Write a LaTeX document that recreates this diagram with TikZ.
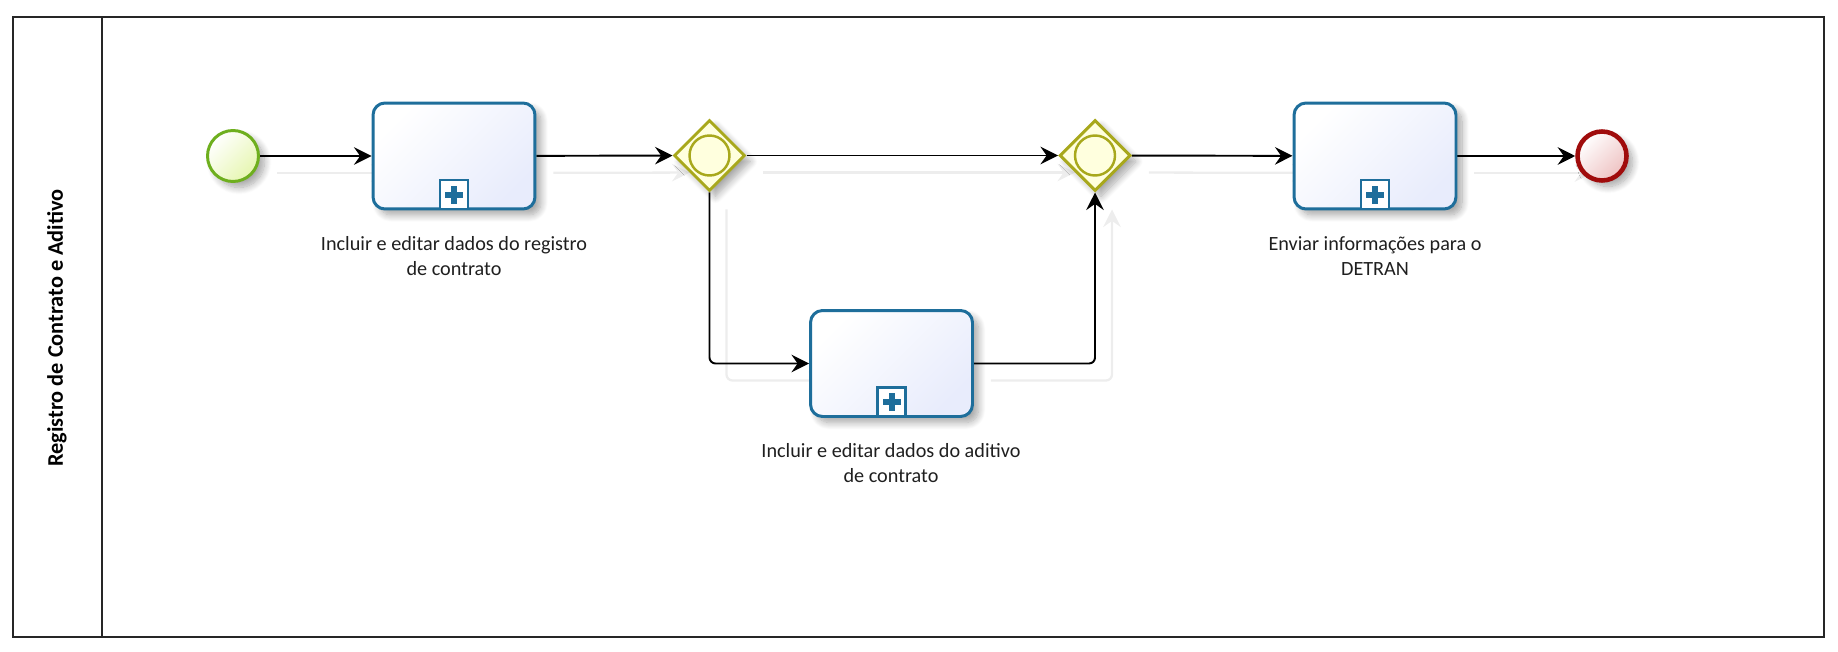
\documentclass[tikz,border=0pt]{standalone}
\usepackage{fontspec}
\setmainfont{Carlito}
\usetikzlibrary{shapes.geometric,arrows.meta,shadows.blur,backgrounds,calc}
\definecolor{taskblue}{RGB}{30,110,155}
\definecolor{taskfill}{RGB}{232,236,252}
\definecolor{startgreen}{RGB}{110,175,30}
\definecolor{startfill}{RGB}{230,246,176}
\definecolor{gwolive}{RGB}{168,168,28}
\definecolor{gwfill}{RGB}{255,255,222}
\definecolor{endred}{RGB}{160,12,12}
\definecolor{endfill}{RGB}{238,194,194}
\tikzset{
  shd/.style={blur shadow={shadow xshift=0.12cm, shadow yshift=-0.12cm, shadow blur steps=10, shadow blur radius=0.14cm, shadow opacity=35}},
  task/.style={draw=taskblue, line width=1.7pt, rounded corners=0.24cm, minimum width=3.24cm, minimum height=2.12cm, inner sep=0pt, top color=white, bottom color=taskfill, shading angle=45, shd},
  marker/.style={draw=taskblue, line width=1.5pt, fill=white, minimum width=0.56cm, minimum height=0.58cm, inner sep=0pt, anchor=south,
    path picture={
      \fill[taskblue] ([shift={(-0.18cm,-0.06cm)}]path picture bounding box.center) rectangle ([shift={(0.18cm,0.06cm)}]path picture bounding box.center);
      \fill[taskblue] ([shift={(-0.06cm,-0.18cm)}]path picture bounding box.center) rectangle ([shift={(0.06cm,0.18cm)}]path picture bounding box.center);
    }},
  startev/.style={circle, draw=startgreen, line width=1.7pt, minimum size=1.02cm, inner sep=0pt, top color=white, bottom color=startfill, shading angle=45, shd},
  endev/.style={circle, draw=endred, line width=2.6pt, minimum size=0.98cm, inner sep=0pt, top color=white, bottom color=endfill, shading angle=45, shd},
  gw/.style={diamond, aspect=1, draw=gwolive, line width=1.7pt, minimum size=1.42cm, inner sep=0pt, fill=gwfill, shd},
  gwin/.style={circle, draw=gwolive, line width=1.4pt, minimum size=0.80cm, inner sep=0pt, fill=gwfill},
  lbl/.style={align=center, text=black!88, font=\fontsize{11.5pt}{14.2pt}\selectfont, inner sep=0pt},
  flow/.style={draw=black, line width=1.1pt, rounded corners=0.12cm, -{Stealth[length=10pt,width=10pt,inset=3.5pt]},
    preaction={draw=black!7, line width=1.3pt, transform canvas={shift={(0.34cm,-0.34cm)}}}},
  poolline/.style={draw=black!85, line width=1.1pt}
}
\begin{document}
\begin{tikzpicture}[x=0.02cm, y=-0.02cm]
\useasboundingbox (0,0) rectangle (1838,652);
% pool
\draw[poolline] (13,17) rectangle (1824,637);
\draw[poolline] (102,17) -- (102,637);
\node[rotate=90, font=\bfseries\fontsize{12.7pt}{14pt}\selectfont, inner sep=0pt] (title) at (57,328) {Registro de Contrato e Aditivo};
% nodes
\node[startev] (start) at (233,156) {};
\node[task] (t1) at (454,156) {};
\node[marker] (m1) at (t1.south) {};
\node[gw] (g1) at (709.5,155.5) {};
\node[gwin] (g1in) at (g1.center) {};
\node[gw] (g2) at (1095,155.5) {};
\node[gwin] (g2in) at (g2.center) {};
\node[task] (t2) at (891.5,363.5) {};
\node[marker] (m2) at (t2.south) {};
\node[task] (t3) at (1375,156) {};
\node[marker] (m3) at (t3.south) {};
\node[endev] (end) at (1602,156) {};
% labels
\node[lbl] (l1) at (454,256) {Incluir e editar dados do registro\\de contrato};
\node[lbl] (l2) at (891,463) {Incluir e editar dados do aditivo\\de contrato};
\node[lbl] (l3) at (1375,256) {Enviar informações para o\\DETRAN};
% connectors
\begin{pgfonlayer}{background}
\draw[flow] (start) -- (t1);
\draw[flow] (t1) -- (g1);
\draw[flow] (g1) -- (g2);
\draw[flow] (g1.south) |- (t2.west);
\draw[flow] (t2.east) -| (g2.south);
\draw[flow] (g2) -- (t3);
\draw[flow] (t3) -- (end);
\end{pgfonlayer}
\end{tikzpicture}
\end{document}
